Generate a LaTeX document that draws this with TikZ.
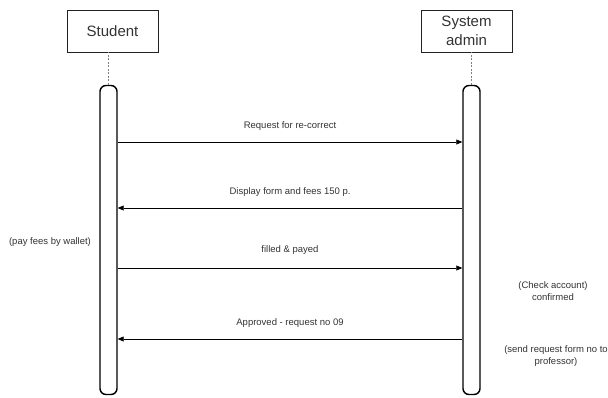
\documentclass[tikz,border=0pt]{standalone}
\usepackage{fontspec}
\setmainfont{Liberation Sans}
\usetikzlibrary{arrows.meta}
\definecolor{txtgray}{HTML}{333333}
\definecolor{linegray}{HTML}{222222}
\begin{document}
\begin{tikzpicture}[x=1pt,y=1pt,
    actor/.style={draw=linegray, line width=0.8pt, minimum width=91pt, minimum height=42pt, inner sep=2pt, align=center, font=\fontsize{15}{19}\selectfont, text=txtgray},
    lifebar/.style={draw=black, line width=1.4pt, rounded corners=6pt, minimum width=17pt, minimum height=309pt, inner sep=0pt},
    msg/.style={draw=black, line width=0.6pt, -{Triangle[length=6pt,width=5pt]}},
    msglabel/.style={font=\fontsize{9.5}{11.5}\selectfont, text=txtgray, align=center},
    lifeline/.style={draw=gray, line width=0.8pt, dash pattern=on 2pt off 1.5pt}]
        \useasboundingbox (0,0) rectangle (608,-397);

        % actors and lifelines
        \node[actor] (student) at (112.5,-31) {Student};
        \node[actor] (admin) at (466.5,-31) {System\\admin};
        \node[lifebar] (sbar) at (108.5,-240) {};
        \node[lifebar] (abar) at (471.5,-240) {};
        \path[lifeline] (sbar.north) -- (sbar.north |- student.south);
        \path[lifeline] (abar.north) -- (abar.north |- admin.south);

        % messages
        \path[msg] (sbar.east |- 0,-142) -- (abar.west |- 0,-142);
        \path[msg] (abar.west |- 0,-208) -- (sbar.east |- 0,-208);
        \path[msg] (sbar.east |- 0,-268) -- (abar.west |- 0,-268);
        \path[msg] (abar.west |- 0,-339) -- (sbar.east |- 0,-339);

        \node[msglabel] (m1) at (290,-126) {Request for re-correct};
        \node[msglabel] (m2) at (290,-192) {Display form and fees 150 p.};
        \node[msglabel] (m3) at (290,-250) {filled \& payed};
        \node[msglabel] (m4) at (290,-323) {Approved - request no 09};

        % side notes
        \node[msglabel] (n1) at (50,-242) {(pay fees by wallet)};
        \node[msglabel] (n2) at (553,-291) {(Check account)\\confirmed};
        \node[msglabel] (n3) at (556,-356) {(send request form no to\\professor)};
    \end{tikzpicture}
\end{document}
